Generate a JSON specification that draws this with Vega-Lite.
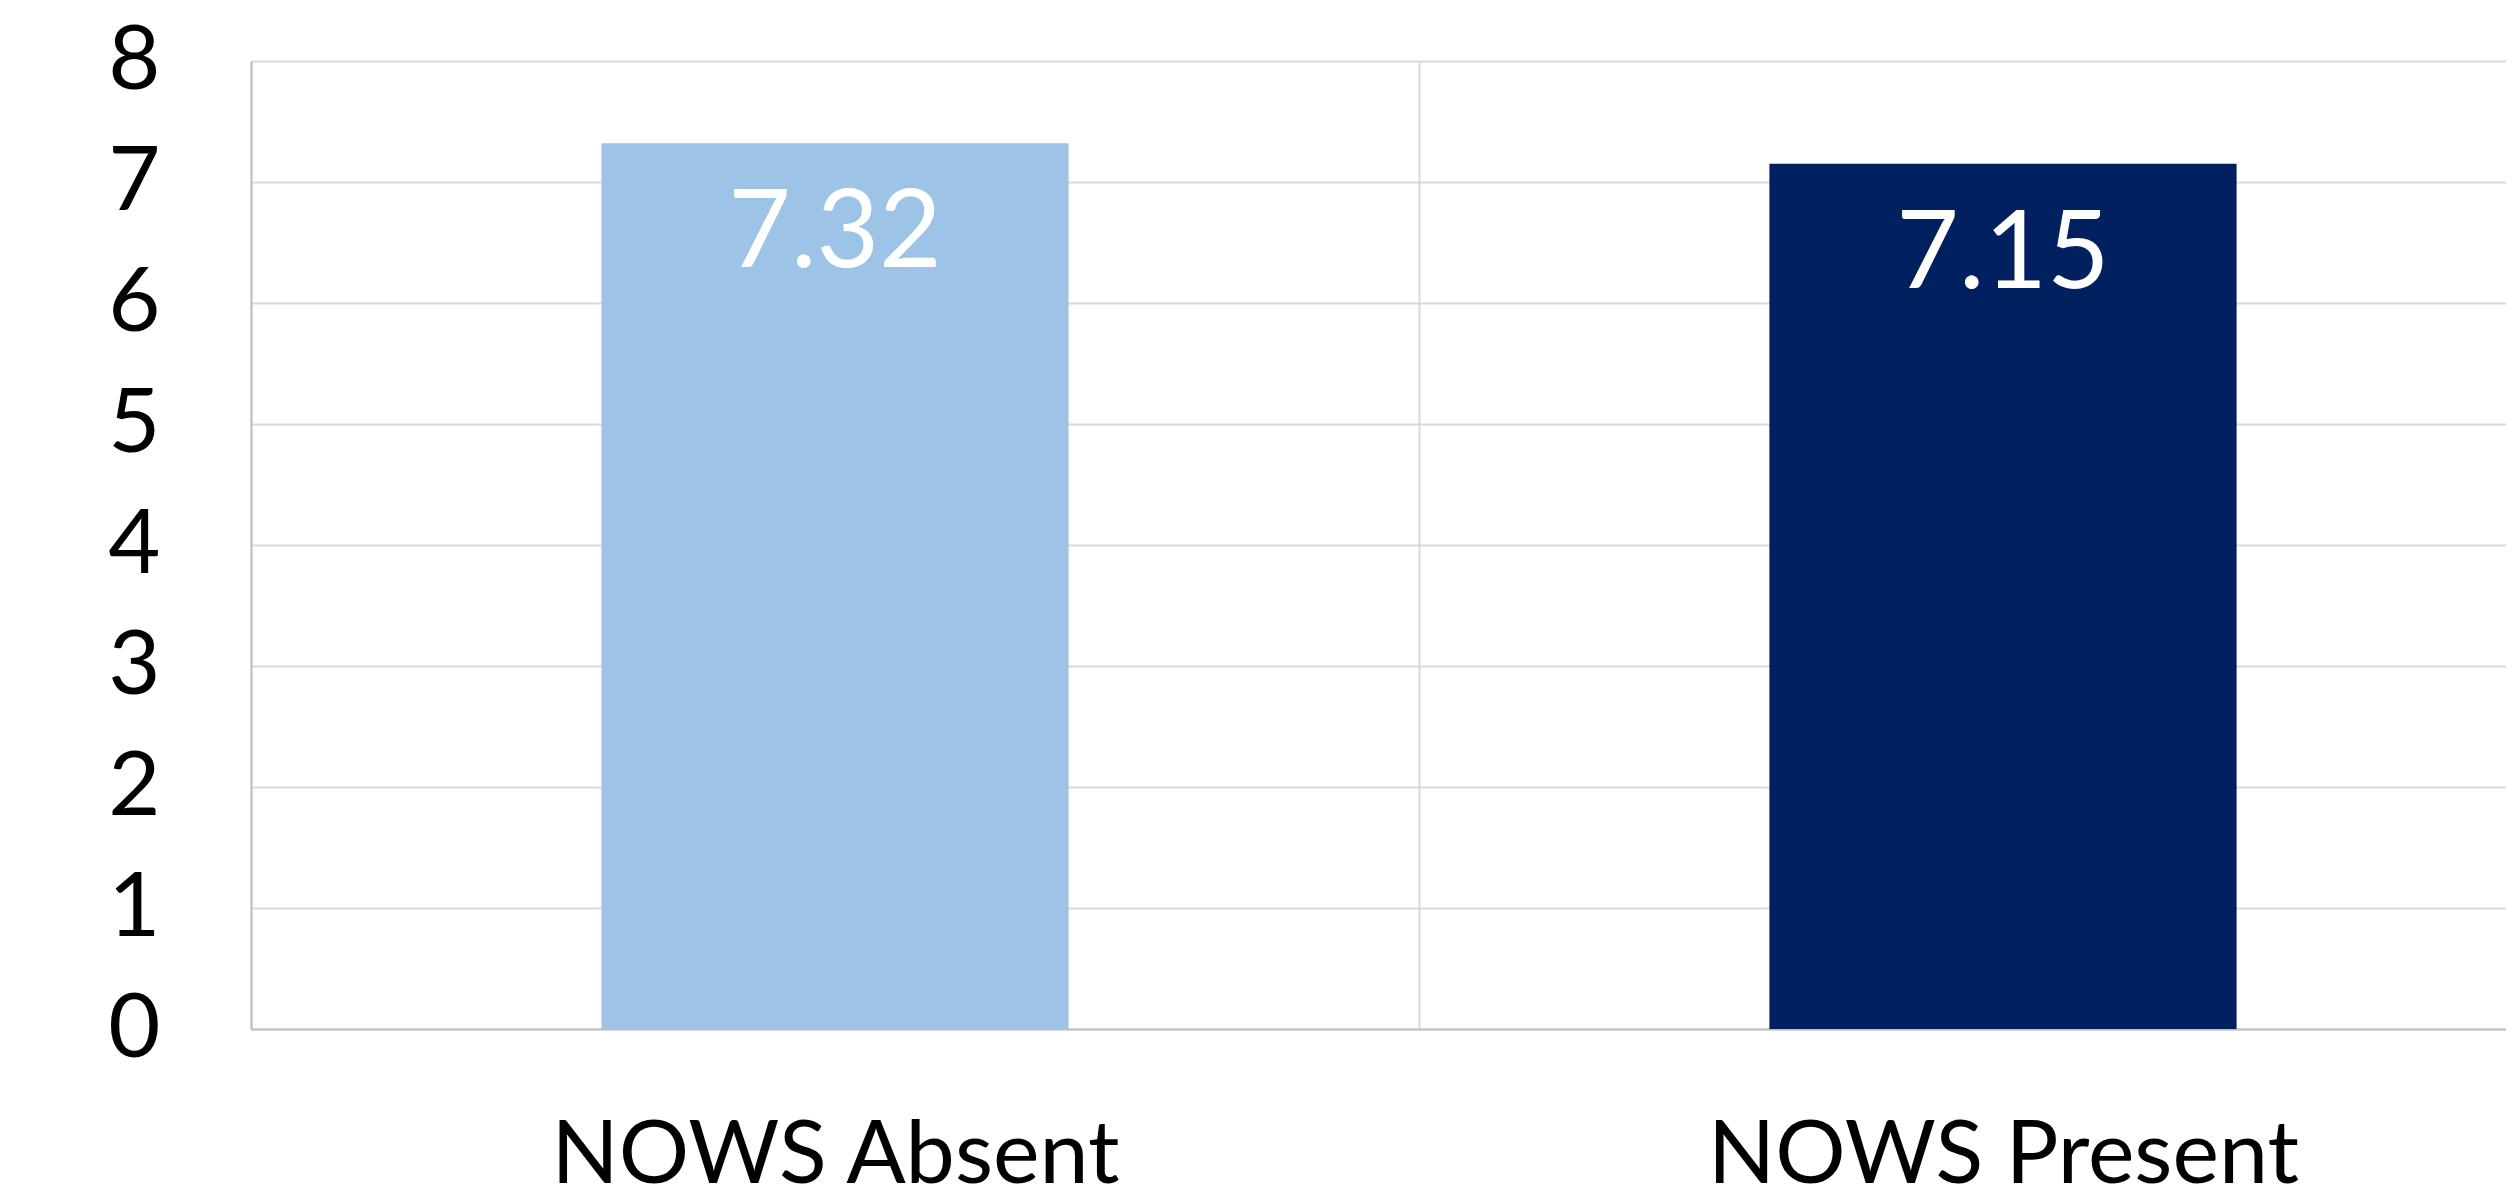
{
  "$schema": "https://vega.github.io/schema/vega-lite/v6.json",
  "autosize": "none",
  "width": 2255,
  "height": 968,
  "padding": {"left": 251, "top": 61, "right": 0, "bottom": 175},
  "background": "white",
  "config": {"view": {"stroke": null}, "font": "Lato"},
  "data": {"values": [
    {"group": "NOWS Absent", "value": 7.32},
    {"group": "NOWS Present", "value": 7.15}
  ]},
  "encoding": {
    "x": {
      "field": "group", "type": "nominal", "sort": null,
      "scale": {"range": [0, 2336], "paddingInner": 0, "paddingOuter": 0},
      "axis": {
        "title": null, "labelAngle": 0, "labelFont": "Lato", "labelFontSize": 88,
        "labelColor": "#000000", "labelBaseline": "alphabetic", "labelPadding": 153,
        "labelLimit": 0, "labelOverlap": false,
        "ticks": false, "tickSize": 0, "tickBand": "extent",
        "domainColor": "#bfbfbf", "domainWidth": 2,
        "grid": true, "gridColor": "#d9d9d9", "gridWidth": 2
      }
    },
    "y": {
      "field": "value", "type": "quantitative",
      "scale": {"domain": [0, 8], "nice": false},
      "axis": {
        "title": null, "values": [0, 1, 2, 3, 4, 5, 6, 7, 8],
        "labelFont": "Lato", "labelFontSize": 90, "labelColor": "#000000",
        "labelPadding": 91, "ticks": false, "tickSize": 0,
        "domainColor": "#bfbfbf", "domainWidth": 2,
        "grid": true, "gridColor": "#d9d9d9", "gridWidth": 2
      }
    }
  },
  "layer": [
    {
      "mark": {"type": "bar", "width": {"band": 0.4}},
      "encoding": {
        "color": {
          "field": "group", "type": "nominal",
          "scale": {"domain": ["NOWS Absent", "NOWS Present"], "range": ["#9DC3E6", "#002060"]},
          "legend": null
        }
      }
    },
    {
      "mark": {"type": "text", "baseline": "alphabetic", "align": "center", "dy": 124,
               "fontSize": 108, "font": "Lato", "color": "#ffffff"},
      "encoding": {"text": {"field": "value", "type": "quantitative", "format": ".2f"}}
    }
  ]
}
